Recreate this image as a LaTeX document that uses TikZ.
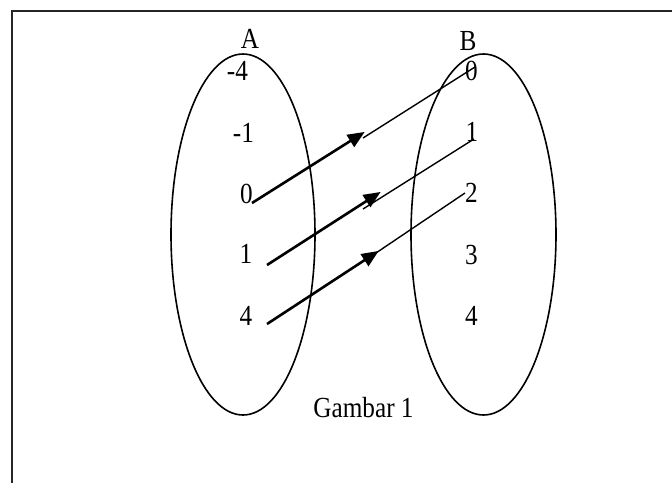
\documentclass[tikz,border=0pt]{standalone}
\usepackage{fontspec}
\setmainfont{Liberation Serif}
\usetikzlibrary{arrows.meta}
\newcommand{\tallt}[1]{\scalebox{0.97}[1.12]{#1}}
\tikzset{
  lbl/.style={inner sep=0pt, anchor=base, font=\fontsize{26}{26}\selectfont},
  setshape/.style={draw, line width=1.6pt},
  mapthick/.style={line width=2.6pt, -{Triangle[length=17pt,width=14pt]}, shorten >=-2pt},
  mapthin/.style={line width=1.4pt},
  frame/.style={line width=2pt, draw=black!85}
}
\begin{document}
\begin{tikzpicture}[x=1pt,y=-1pt]
\useasboundingbox (0,0) rectangle (672,483);
% frame
\draw[frame] (11.5,483) -- (11.5,11) -- (672,11);
% sets
\draw[setshape] (243,234.5) ellipse [x radius=72, y radius=180.5];
\draw[setshape] (483.5,234.5) ellipse [x radius=72.5, y radius=180.5];
% labels
\node[lbl] (A) at (250,48) {\tallt{A}};
\node[lbl] (B) at (468,50) {\tallt{B}};
\node[lbl] (am4) at (237.5,80) {\tallt{-4}};
\node[lbl] (am1) at (243.5,142) {\tallt{-1}};
\node[lbl] (a0) at (246.5,203) {\tallt{0}};
\node[lbl] (a1) at (246,263.5) {\tallt{1}};
\node[lbl] (a4) at (246,325) {\tallt{4}};
\node[lbl] (b0) at (471.5,80) {\tallt{0}};
\node[lbl] (b1) at (472,141) {\tallt{1}};
\node[lbl] (b2) at (471.5,202) {\tallt{2}};
\node[lbl] (b3) at (471.5,264) {\tallt{3}};
\node[lbl] (b4) at (471.5,325) {\tallt{4}};
\node[lbl] (cap) at (363.5,417) {\tallt{Gambar 1}};
% connector points
\coordinate (s0) at (252,203);
\coordinate (t0) at (363,133);
\coordinate (u0) at (363,138);
\coordinate (e0) at (475,67);
\coordinate (s1) at (267,265);
\coordinate (t1) at (379,193);
\coordinate (u1) at (363,209);
\coordinate (e1) at (474,139);
\coordinate (s2) at (267,324);
\coordinate (t2) at (377,252);
\coordinate (u2) at (370,257);
\coordinate (e2) at (465,193);
% mappings
\draw[mapthick] (s0) -- (t0);
\draw[mapthin] (u0) -- (e0);
\draw[mapthick] (s1) -- (t1);
\draw[mapthin] (u1) -- (e1);
\draw[mapthick] (s2) -- (t2);
\draw[mapthin] (u2) -- (e2);
\end{tikzpicture}
\end{document}
